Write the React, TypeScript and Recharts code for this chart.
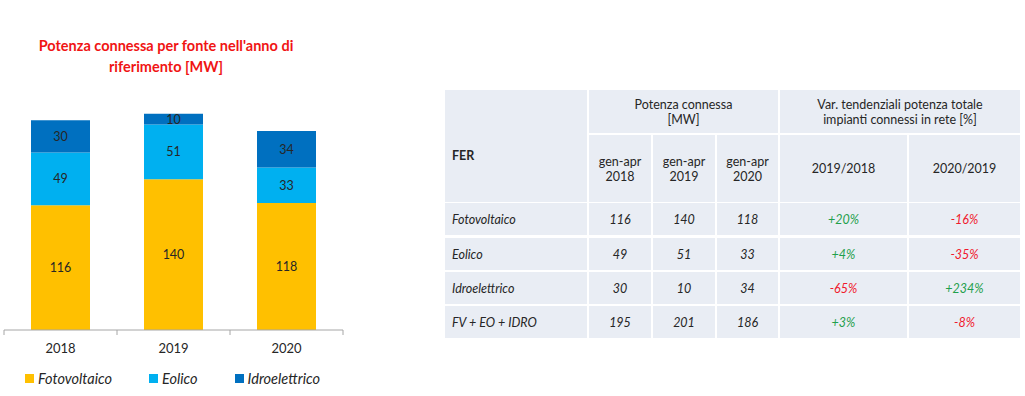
import { BarChart, Bar, XAxis, YAxis, Legend, LabelList } from 'recharts';

const years = ['2018', '2019', '2020'];
const fotovoltaico = [116, 140, 118];
const eolico = [49, 51, 33];
const idroelettrico = [30, 10, 34];
const legendOrder = ['Fotovoltaico', 'Eolico', 'Idroelettrico'];

const fonti = ['Fotovoltaico', 'Eolico', 'Idroelettrico', 'FV + EO + IDRO'];
const totali = [195, 201, 186];
const var2019su2018 = ['+20%', '+4%', '-65%', '+3%'];
const var2020su2019 = ['-16%', '-35%', '+234%', '-8%'];
const periodi = ['gen-apr 2018', 'gen-apr 2019', 'gen-apr 2020'];

const FONT = 'Lato, "Noto Sans", sans-serif';
const CELL_BG = '#e9edf4';
const GREEN = '#1fa04c';
const RED = '#f0192d';

const chartData = years.map((year, i) => ({
  year,
  fv: fotovoltaico[i],
  eo: eolico[i],
  idro: idroelettrico[i],
}));

// table rows: each source with its three values
const seriesBySource = [fotovoltaico, eolico, idroelettrico, totali];

// column edges of the table (x, width)
const cols = [
  [445, 142],
  [589, 62],
  [653, 62],
  [717, 61],
  [780, 127],
  [909, 111],
];
const rowTops = [203, 238, 272, 306];
const rowH = 32;

function YearTick(props: any) {
  const { x, y, payload, index, visibleTicksCount } = props;
  const half = payload.offset ?? 0;
  const last = index === visibleTicksCount - 1;
  return (
    <g>
      <line x1={x - half} x2={x - half} y1={y} y2={y + 5} stroke="#a6a6a6" />
      {last && <line x1={x + half} x2={x + half} y1={y} y2={y + 5} stroke="#a6a6a6" />}
      <text x={x} y={y + 23} textAnchor="middle" fontSize={13} fill="#262626" fontFamily={FONT}>
        {payload.value}
      </text>
    </g>
  );
}

function LegendContent({ payload }: any) {
  const items = [...(payload || [])].sort(
    (a: any, b: any) => legendOrder.indexOf(a.value) - legendOrder.indexOf(b.value)
  );
  return (
    <div
      style={{
        display: 'flex',
        alignItems: 'center',
        paddingLeft: 25,
        paddingTop: 4,
        gap: 37,
        fontFamily: FONT,
        fontStyle: 'italic',
        fontSize: 14.5,
        color: '#262626',
      }}
    >
      {items.map((p: any) => (
        <span key={p.value} style={{ display: 'flex', alignItems: 'center' }}>
          <span style={{ width: 9, height: 9, background: p.color, marginRight: 4, display: 'inline-block' }} />
          {p.value}
        </span>
      ))}
    </div>
  );
}

function Cell({ x, w, y, h, children, style }: any) {
  return (
    <div
      style={{
        position: 'absolute',
        left: x,
        top: y,
        width: w,
        height: h,
        background: CELL_BG,
        display: 'flex',
        alignItems: 'center',
        justifyContent: 'center',
        textAlign: 'center',
        lineHeight: '15px',
        ...style,
      }}
    >
      {children}
    </div>
  );
}

function DataTable() {
  const rows = fonti.map((fonte, r) => {
    const vals = [seriesBySource[r][0], seriesBySource[r][1], seriesBySource[r][2]];
    const v1 = var2019su2018[r];
    const v2 = var2020su2019[r];
    const y = rowTops[r];
    return (
      <div key={fonte}>
        <Cell x={cols[0][0]} w={cols[0][1]} y={y} h={rowH} style={{ justifyContent: 'flex-start', paddingLeft: 7, boxSizing: 'border-box' }}>
          {fonte}
        </Cell>
        {vals.map((v, c) => (
          <Cell key={c} x={cols[c + 1][0]} w={cols[c + 1][1]} y={y} h={rowH}>
            {v}
          </Cell>
        ))}
        <Cell x={cols[4][0]} w={cols[4][1]} y={y} h={rowH} style={{ color: v1.startsWith('+') ? GREEN : RED }}>
          {v1}
        </Cell>
        <Cell x={cols[5][0]} w={cols[5][1]} y={y} h={rowH} style={{ color: v2.startsWith('+') ? GREEN : RED }}>
          {v2}
        </Cell>
      </div>
    );
  });

  return (
    <div style={{ fontFamily: FONT, fontSize: 12.5, color: '#262626' }}>
      <Cell x={cols[0][0]} w={cols[0][1]} y={90} h={112} style={{ justifyContent: 'flex-start', paddingLeft: 7, paddingTop: 18, boxSizing: 'border-box', fontWeight: 700 }}>
        FER
      </Cell>
      <Cell x={cols[1][0]} w={cols[3][0] + cols[3][1] - cols[1][0]} y={90} h={43}>
        Potenza connessa
        <br />
        [MW]
      </Cell>
      <Cell x={cols[4][0]} w={cols[5][0] + cols[5][1] - cols[4][0]} y={90} h={43}>
        Var. tendenziali potenza totale
        <br />
        impianti connessi in rete [%]
      </Cell>
      {periodi.map((p, c) => (
        <Cell key={p} x={cols[c + 1][0]} w={cols[c + 1][1]} y={135} h={67}>
          {p.split(' ')[0]}
          <br />
          {p.split(' ')[1]}
        </Cell>
      ))}
      <Cell x={cols[4][0]} w={cols[4][1]} y={135} h={67}>
        2019/2018
      </Cell>
      <Cell x={cols[5][0]} w={cols[5][1]} y={135} h={67}>
        2020/2019
      </Cell>
      <div style={{ fontStyle: 'italic' }}>{rows}</div>
    </div>
  );
}

export default function App() {
  return (
    <div style={{ position: 'absolute', left: 0, top: 0, width: 1025, height: 396, background: '#fff', overflow: 'hidden' }}>
      <div
        style={{
          position: 'absolute',
          left: 0,
          top: 35,
          width: 332,
          textAlign: 'center',
          color: '#f01414',
          fontFamily: FONT,
          fontWeight: 700,
          fontSize: 14.5,
          lineHeight: '21px',
        }}
      >
        Potenza connessa per fonte nell'anno di
        <br />
        riferimento [MW]
      </div>
      <div style={{ position: 'absolute', left: 0, top: 0 }}>
        <BarChart width={345} height={396} data={chartData} margin={{ top: 61, right: 2, left: 4, bottom: 0 }}>
          <XAxis
            dataKey="year"
            height={36}
            axisLine={{ stroke: '#a6a6a6' }}
            tickLine={false}
            tickSize={0}
            tickMargin={0}
            tick={<YearTick />}
            interval={0}
          />
          <YAxis hide width={0} domain={[0, 250]} />
          <Legend verticalAlign="bottom" height={30} content={<LegendContent />} wrapperStyle={{ left: 0, width: 345 }} />
          <Bar dataKey="fv" name="Fotovoltaico" stackId="a" fill="#ffc000" barSize={59} isAnimationActive={false}>
            <LabelList dataKey="fv" position="center" fill="#262626" fontSize={12.5} fontFamily={FONT} />
          </Bar>
          <Bar dataKey="eo" name="Eolico" stackId="a" fill="#00b0f0" barSize={59} isAnimationActive={false}>
            <LabelList dataKey="eo" position="center" fill="#262626" fontSize={12.5} fontFamily={FONT} />
          </Bar>
          <Bar dataKey="idro" name="Idroelettrico" stackId="a" fill="#0070c0" barSize={59} isAnimationActive={false}>
            <LabelList dataKey="idro" position="center" fill="#262626" fontSize={12.5} fontFamily={FONT} />
          </Bar>
        </BarChart>
      </div>
      <DataTable />
    </div>
  );
}
